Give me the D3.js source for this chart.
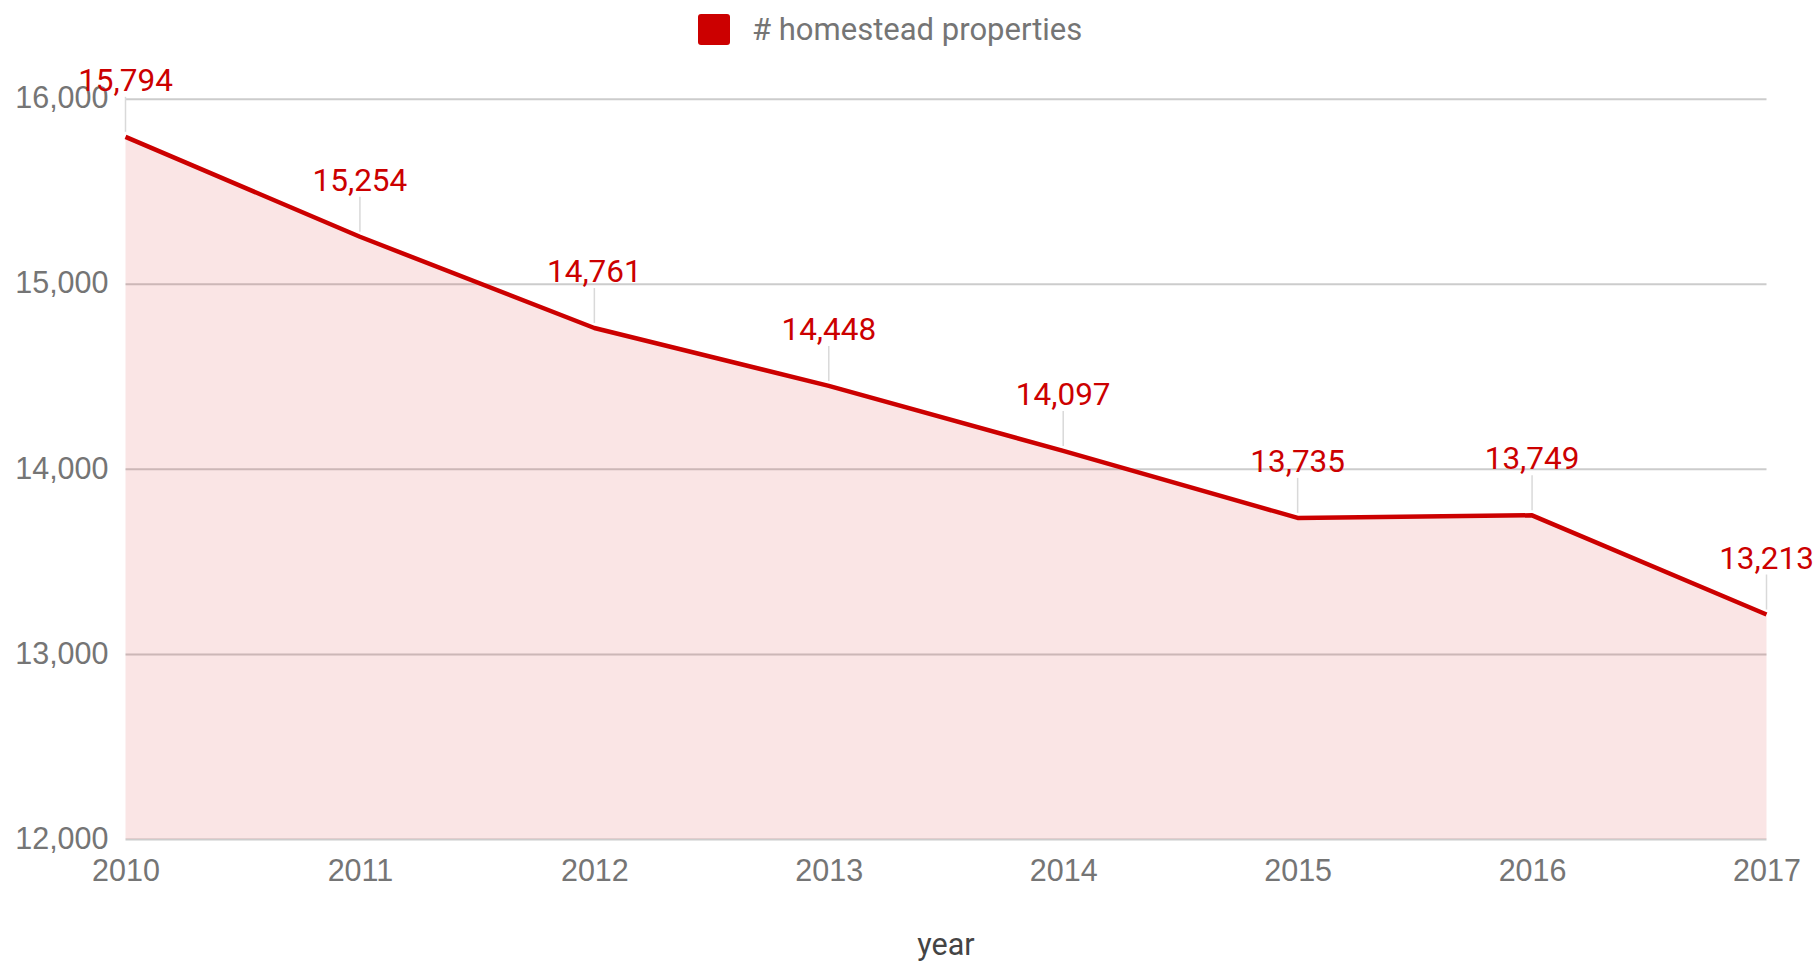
<!DOCTYPE html>
<html><head><meta charset="utf-8">
<script src="https://cdn.jsdelivr.net/npm/d3@7"></script>
<style>
html,body{margin:0;padding:0;background:#fff;}
svg{display:block;font-family:Roboto, "Noto Sans", sans-serif;}
</style></head>
<body>
<svg id="chart" width="1820" height="964"></svg>
<script>
const years = ["2010","2011","2012","2013","2014","2015","2016","2017"];
const homesteadProperties = [15794, 15254, 14761, 14448, 14097, 13735, 13749, 13213];
const yTicks = [12000, 13000, 14000, 15000, 16000];
const seriesName = "# homestead properties";
const xTitle = "year";

(function(){
const svg = d3.select("#chart");
const pLeft = 125.5, pRight = 1766.5, pTop = 98.7, pBottom = 839;
const x = d3.scalePoint().domain(years).range([pLeft, pRight]);
const y = d3.scaleLinear().domain([12000, 16000]).range([pBottom, pTop]);
const fmt = d3.format(",");
const data = years.map((yr, i) => ({yr, v: homesteadProperties[i]}));

// gridlines
const yAxis = d3.axisLeft(y).tickValues(yTicks).tickFormat(fmt).tickSize(-(pRight - pLeft)).tickPadding(17);
const gy = svg.append("g").attr("transform", `translate(${pLeft},0)`).call(yAxis);
gy.select(".domain").remove();
gy.selectAll(".tick line").attr("stroke", "#cccccc").attr("stroke-width", 2);
gy.selectAll(".tick text").attr("fill", "#757575").style("font-size", "30.5px").attr("dy", "0.3em");

// x axis labels
const xAxis = d3.axisBottom(x).tickSize(0).tickPadding(20);
const gx = svg.append("g").attr("transform", `translate(0,${pBottom})`).call(xAxis);
gx.select(".domain").remove();
gx.selectAll(".tick text").attr("fill", "#757575").style("font-size", "30.5px");

// area fill
const area = d3.area().x(d => x(d.yr)).y0(pBottom).y1(d => y(d.v));
svg.append("path").datum(data).attr("d", area).attr("fill", "#cc0000").attr("fill-opacity", 0.1);

// leader lines
svg.append("g").selectAll("line").data(data).join("line")
  .attr("x1", d => x(d.yr)).attr("x2", d => x(d.yr))
  .attr("y1", d => y(d.v) - 5).attr("y2", d => y(d.v) - 40)
  .attr("stroke", "#d9d9d9").attr("stroke-width", 1.5);

// line
const line = d3.line().x(d => x(d.yr)).y(d => y(d.v));
svg.append("path").datum(data).attr("d", line).attr("fill", "none")
  .attr("stroke", "#cc0000").attr("stroke-width", 4.5).attr("stroke-linejoin", "round");

// data labels
svg.append("g").selectAll("text").data(data).join("text")
  .attr("x", d => x(d.yr)).attr("y", d => y(d.v) - 46)
  .attr("text-anchor", "middle").attr("fill", "#cc0000").style("font-size", "31.5px")
  .text(d => fmt(d.v));

// legend
const lg = svg.append("g");
lg.append("rect").attr("x", 698).attr("y", 14).attr("width", 32).attr("height", 31).attr("rx", 3)
  .attr("fill", "#cc0000");
lg.append("text").attr("x", 752).attr("y", 40).attr("fill", "#757575").style("font-size", "31px").text(seriesName);

// x title
svg.append("text").attr("x", 946).attr("y", 955).attr("text-anchor", "middle")
  .attr("fill", "#444444").style("font-size", "30.5px").text(xTitle);
})();
</script>
</body></html>
